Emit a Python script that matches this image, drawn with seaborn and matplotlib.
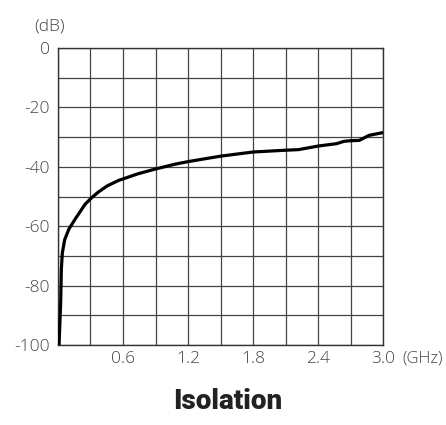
import numpy as np
import pandas as pd
import seaborn as sns
import matplotlib.pyplot as plt

# isolation curve (GHz, dB)
freq_ghz = [0.01, 0.016, 0.025, 0.031, 0.04, 0.062, 0.10, 0.16, 0.25, 0.31, 0.372,
            0.45, 0.557, 0.741, 0.902, 1.08, 1.206, 1.5, 1.8, 2.1, 2.22, 2.4, 2.57,
            2.64, 2.70, 2.78, 2.87, 2.98, 3.0]
isolation_db = [-100, -94, -85.5, -74.5, -69, -64.5, -61, -57.5, -52.6, -50.4, -48.5,
                -46.5, -44.6, -42.3, -40.7, -39.1, -38.2, -36.4, -35.0, -34.4, -34.2,
                -33.0, -32.2, -31.4, -31.2, -31.1, -29.4, -28.6, -28.5]
x_ticks = [0.6, 1.2, 1.8, 2.4, 3.0]
y_ticks = [0, -20, -40, -60, -80, -100]

df = pd.DataFrame({"freq": freq_ghz, "iso": isolation_db})

sns.set_style("white")
plt.rcParams['font.family'] = ['Open Sans', 'DejaVu Sans']

fig = plt.figure(figsize=(4.46, 4.25), dpi=100)
ax = fig.add_axes([0.130, 0.188, 0.729, 0.699])

sns.lineplot(data=df, x="freq", y="iso", color="black", linewidth=2.3, ax=ax, zorder=3)

ax.set_xlim(0, 3.0)
ax.set_ylim(-100, 0)
ax.set_xticks(np.arange(0, 3.01, 0.3), minor=True)
ax.set_yticks(np.arange(-100, 1, 10), minor=True)
ax.set_xticks(x_ticks)
ax.set_xticklabels([f"{v:.1f}" for v in x_ticks])
ax.set_yticks(y_ticks)
ax.set_yticklabels([str(v) for v in y_ticks])
ax.grid(which="both", color="#444444", linewidth=0.9)
ax.tick_params(which="both", length=0, labelsize=12.5, colors="#444444")
ax.tick_params(axis="y", pad=6)
ax.tick_params(axis="x", pad=4)
for lab in ax.get_xticklabels() + ax.get_yticklabels():
    lab.set_fontweight("light")
for s in ax.spines.values():
    s.set_color("#333333")
    s.set_linewidth(1.0)
ax.set_xlabel("")
ax.set_ylabel("")

ax.text(-0.025, 1.072, "(dB)", transform=ax.transAxes, ha="center", va="center",
        fontsize=12.5, fontweight="light", color="#444444")
ax.text(1.058, -0.044, "(GHz)", transform=ax.transAxes, ha="left", va="center",
        fontsize=12, fontweight="light", color="#444444")

fig.text(0.511, 0.055, "Isolation", ha="center", va="center", fontsize=20,
         fontweight="heavy", fontstretch="condensed", family=["Roboto", "DejaVu Sans"],
         color="#222222")

fig.savefig("out.png", dpi=100)
